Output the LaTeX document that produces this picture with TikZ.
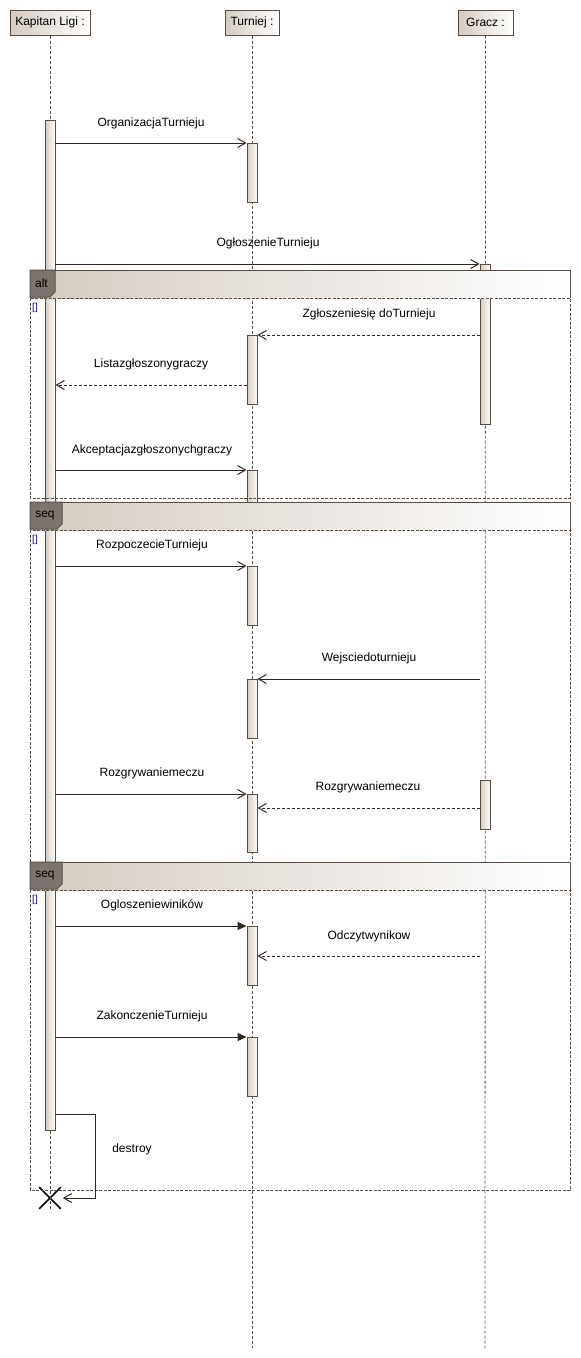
\documentclass[tikz,border=0pt]{standalone}
\usepackage{fontspec}
\setmainfont{Liberation Sans}
\usetikzlibrary{arrows.meta,shapes.misc}
\definecolor{edge}{RGB}{90,78,68}
\definecolor{sand}{RGB}{212,203,193}
\definecolor{tabfill}{RGB}{125,117,109}
\definecolor{ink}{RGB}{50,40,34}

\begin{document}
\begin{tikzpicture}[ x=1pt , y=-1pt , font=\fontsize{12}{14}\selectfont ,
  head/.style={ draw=edge , line width=1pt , left color=sand , right color=white , minimum height=25pt , inner sep=0pt } ,
  bar/.style={ draw=edge , line width=0.9pt , left color=sand , right color=white!95!sand , minimum width=10pt , inner sep=0pt , anchor=north } ,
  life/.style={ draw=edge , line width=0.8pt , dash pattern=on 3pt off 2pt } ,
  msg/.style={ draw=ink , line width=1pt , -{Straight Barb[length=8pt,width=9pt]} } ,
  reply/.style={ msg , dash pattern=on 3pt off 2pt } ,
  sync/.style={ draw=ink , line width=1pt , -{Triangle[length=9pt,width=8pt]} } ,
  lbl/.style={ text=black , inner sep=0pt } ,
  guard/.style={ text=blue!60!black , font=\fontsize{10}{12}\selectfont , inner sep=0pt } ]
\useasboundingbox (0,0) rectangle (581,1358);

% lifelines
\node [ head , minimum width=80pt ] (kap) at (50,22.5) {Kapitan Ligi :};
\node [ head , minimum width=54pt ] (tur) at (252,22.5) {Turniej :};
\node [ head , minimum width=55pt ] (gra) at (485.5,22.5) {Gracz :};
\coordinate (tEnd) at (252,1348);
\coordinate (gEnd) at (485,1348);
\node [ draw=black , cross out , line width=1.6pt , minimum size=20pt , inner sep=0pt ] (kx) at (50,1198) {};

\draw [ life ] (tur) -- (tEnd);
\draw [ life ] (gra) -- (gEnd);
\node [ bar , minimum height=1010pt ] (kA) at (50,120) {};
\draw [ life ] (kap) -- (kA);
\draw [ life ] (kA) -- (kx.south);

\node [ bar , minimum height=59pt ] (t1) at (252,143) {};
\node [ bar , minimum height=69pt ] (t2) at (252,335) {};
\node [ bar , minimum height=32pt ] (t3) at (252,470) {};
\node [ bar , minimum height=59pt ] (t4) at (252,566) {};
\node [ bar , minimum height=59pt ] (t5) at (252,679) {};
\node [ bar , minimum height=58pt ] (t6) at (252,794) {};
\node [ bar , minimum height=59pt ] (t7) at (252,926) {};
\node [ bar , minimum height=59pt ] (t8) at (252,1037) {};
\node [ bar , minimum height=160pt ] (g1) at (485,264) {};
\node [ bar , minimum height=49pt ] (g2) at (485,780) {};

% fragments
\foreach \t/\b/\w/\op in {270/498/25/alt, 502/1190/32/seq, 862/1190/32/seq} {
  \shade [ left color=sand , right color=white ] (30,\t) rectangle (570,\t+28);
  \draw [ edge , line width=1pt ] (30,\t+28) -- (30,\t) -- (570,\t) -- (570,\t+28);
  \draw [ edge , line width=0.9pt , dash pattern=on 3pt off 1.5pt ] (30,\t+28) rectangle (570,\b);
  \filldraw [ draw=edge , fill=tabfill , line width=1pt ] (30,\t) -- ++(\w,0) -- ++(0,22) -- ++(-5,5) -- (30,\t+27) -- cycle;
  \node [ lbl ] (tab\t) at (30+\w/2-1,\t+13.5) {\op};
  \node [ guard ] (grd\t) at (35,\t+38) {[]};
}

% messages
\coordinate (r4) at (0,385);
\coordinate (s7) at (480,679);
\coordinate (r9) at (0,808);
\coordinate (s11) at (480,956);
\coordinate (d1) at (95,1114);
\draw [ msg ] (kA.east |- t1.north) -- (t1.north west);
\draw [ msg ] (kA.east |- g1.north) -- (g1.north west);
\draw [ reply ] (g1.west |- t2.north) -- (t2.north east);
\draw [ reply ] (t2.west |- r4) -- (kA.east |- r4);
\draw [ msg ] (kA.east |- t3.north) -- (t3.north west);
\draw [ msg ] (kA.east |- t4.north) -- (t4.north west);
\draw [ msg ] (s7) -- (t5.north east);
\draw [ msg ] (kA.east |- t6.north) -- (t6.north west);
\draw [ reply ] (g2.west |- r9) -- (t6.east |- r9);
\draw [ sync ] (kA.east |- t7.north) -- (t7.north west);
\draw [ reply ] (s11) -- (t7.east |- s11);
\draw [ sync ] (kA.east |- t8.north) -- (t8.north west);
\draw [ msg ] (kA.east |- d1) -- (d1) |- ([xshift=2pt]kx.east);

\node [ lbl ] (l1) at (151,123) {OrganizacjaTurnieju};
\node [ lbl ] (l2) at (268,243) {OgłoszenieTurnieju};
\node [ lbl ] (l3) at (369,314) {Zgłoszeniesię doTurnieju};
\node [ lbl ] (l4) at (151,364) {Listazgłoszonygraczy};
\node [ lbl ] (l5) at (152,450) {Akceptacjazgłoszonychgraczy};
\node [ lbl ] (l6) at (152,545) {RozpoczecieTurnieju};
\node [ lbl ] (l7) at (369,658) {Wejsciedoturnieju};
\node [ lbl ] (l8) at (152,773) {Rozgrywaniemeczu};
\node [ lbl ] (l9) at (368,787) {Rozgrywaniemeczu};
\node [ lbl ] (l10) at (152,905) {Ogloszeniewiników};
\node [ lbl ] (l11) at (369,936) {Odczytwynikow};
\node [ lbl ] (l12) at (152,1016) {ZakonczenieTurnieju};
\node [ lbl ] (l13) at (132,1149) {destroy};
\end{tikzpicture}
\end{document}
